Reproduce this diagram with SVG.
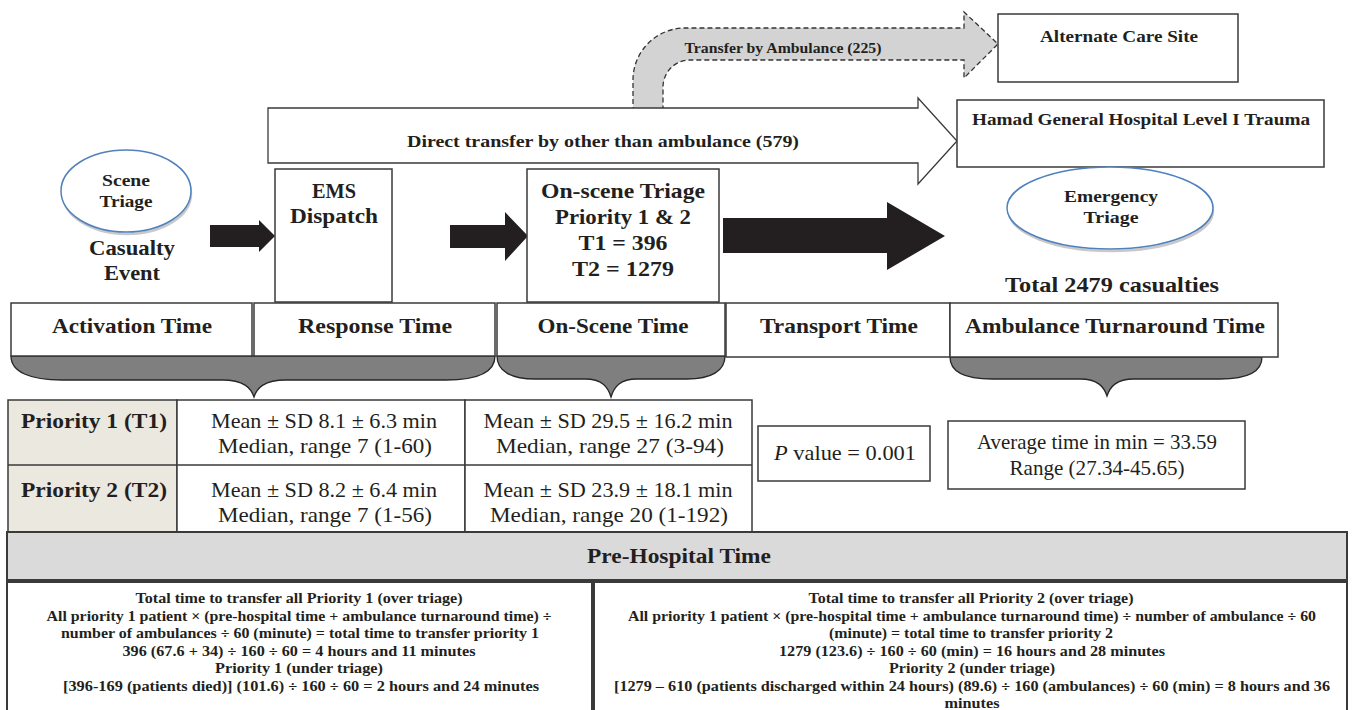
<svg xmlns="http://www.w3.org/2000/svg" width="1353" height="710" viewBox="0 0 1353 710">
<style>
text{font-family:"Liberation Serif","DejaVu Serif",serif;fill:#231f20;text-anchor:middle}
.b{font-weight:bold}
.box{fill:#fff;stroke:#3a3a3a;stroke-width:1.5}
.ell{fill:#fff;stroke:#4f81bd;stroke-width:1.5}
.sh{fill:none;stroke:#c8c8c8;stroke-width:2.5}
.brace{fill:#7f7f7f;stroke:#262626;stroke-width:1.3}
.blk{fill:#231f20}
.h20{font-size:22px;font-weight:bold}
.h17{font-size:17px;font-weight:bold}
.t21{font-size:21px;font-weight:bold}
.r20{font-size:21px}
.s14{font-size:14.5px;font-weight:bold}
</style>
<rect width="1353" height="710" fill="#fff"/>
<g id="connectors">
  <path id="ambulance-arrow" d="M633 112 L633 80 A52 52 0 0 1 685 28 L964 28 L964 12 L998 44 L964 78 L964 60 L690 60 A27 27 0 0 0 663 87 L663 112" fill="#d3d3d3" stroke="#333" stroke-width="1.3" stroke-dasharray="5,3"/>
  <polygon id="direct-arrow" points="268,108 918,108 918,98 957,141 918,184 918,163 268,163" fill="#fff" stroke="#3a3a3a" stroke-width="1.3"/>
  <polygon class="blk" points="210,225 259,225 259,220 275,236 259,252 259,247 210,247"/>
  <polygon class="blk" points="450,225 505,225 505,212 528,236 505,261 505,248 450,248"/>
  <polygon class="blk" points="723,218 887,218 887,202 945,236 887,270 887,253 723,253"/>
  <path class="brace" d="M11 356 C11 372 30 380 62 380 L222 380 C244 380 251 388 254 397 C257 388 264 380 286 380 L446 380 C478 380 495 372 495 356 Z"/>
  <path class="brace" d="M497 356 C497 371 511 379 535 379 L585 379 C602 379 608 387 611 397 C614 387 620 379 637 379 L687 379 C711 379 725 371 725 356 Z"/>
  <path class="brace" d="M950 357 C950 372 966 379 992 379 L1080 379 C1098 379 1104 387 1107 396 C1110 387 1116 379 1134 379 L1220 379 C1246 379 1262 372 1262 357 Z"/>
</g>
<text class="b" x="783" y="53" font-size="15" textLength="197" lengthAdjust="spacingAndGlyphs">Transfer by Ambulance (225)</text>
<text class="b" x="603" y="147" font-size="17" textLength="392" lengthAdjust="spacingAndGlyphs">Direct transfer by other than ambulance (579)</text>
<g id="alternate-care-site">
  <rect class="box" x="998" y="14" width="240" height="68"/>
  <text class="b" x="1119" y="42" font-size="17" textLength="158" lengthAdjust="spacingAndGlyphs">Alternate Care Site</text>
</g>
<g id="hamad-hospital">
  <rect class="box" x="957" y="100" width="367" height="67"/>
  <text class="b" x="1141" y="125" font-size="17" textLength="338" lengthAdjust="spacingAndGlyphs">Hamad General Hospital Level I Trauma</text>
</g>
<g id="scene-triage">
  <ellipse class="sh" cx="127" cy="194" rx="64" ry="40"/>
  <ellipse class="ell" cx="126" cy="191" rx="65" ry="41"/>
  <text class="h17" x="126" y="186" textLength="48" lengthAdjust="spacingAndGlyphs">Scene</text>
  <text class="h17" x="126" y="207" textLength="53" lengthAdjust="spacingAndGlyphs">Triage</text>
</g>
<g id="casualty-event">
  <text class="t21" x="132" y="255" textLength="86" lengthAdjust="spacingAndGlyphs">Casualty</text>
  <text class="t21" x="132" y="280" textLength="56" lengthAdjust="spacingAndGlyphs">Event</text>
</g>
<g id="ems-dispatch">
  <rect class="box" x="275" y="169" width="117" height="133"/>
  <text class="t21" x="334" y="198" textLength="44" lengthAdjust="spacingAndGlyphs">EMS</text>
  <text class="t21" x="334" y="223" textLength="88" lengthAdjust="spacingAndGlyphs">Dispatch</text>
</g>
<g id="on-scene-triage">
  <rect class="box" x="527" y="169" width="192" height="133"/>
  <text class="t21" x="623" y="198" textLength="164" lengthAdjust="spacingAndGlyphs">On-scene Triage</text>
  <text class="t21" x="623" y="224" textLength="136" lengthAdjust="spacingAndGlyphs">Priority 1 &amp; 2</text>
  <text class="t21" x="623" y="250" textLength="89" lengthAdjust="spacingAndGlyphs">T1 = 396</text>
  <text class="t21" x="623" y="276" textLength="102" lengthAdjust="spacingAndGlyphs">T2 = 1279</text>
</g>
<g id="emergency-triage">
  <ellipse class="sh" cx="1111" cy="211" rx="102" ry="40"/>
  <ellipse class="ell" cx="1110" cy="208" rx="103" ry="41"/>
  <text class="h17" x="1111" y="202" textLength="94" lengthAdjust="spacingAndGlyphs">Emergency</text>
  <text class="h17" x="1111" y="223" textLength="55" lengthAdjust="spacingAndGlyphs">Triage</text>
</g>
<g id="total-casualties">
  <text class="t21" x="1112" y="292" textLength="214" lengthAdjust="spacingAndGlyphs">Total 2479 casualties</text>
</g>
<g id="activation-time">
  <rect class="box" x="11" y="303" width="241" height="53"/>
  <text class="h20" x="132" y="333" textLength="160" lengthAdjust="spacingAndGlyphs">Activation Time</text>
</g>
<g id="response-time">
  <rect class="box" x="254" y="303" width="241" height="53"/>
  <text class="h20" x="375" y="333" textLength="154" lengthAdjust="spacingAndGlyphs">Response Time</text>
</g>
<g id="on-scene-time">
  <rect class="box" x="497" y="303" width="228" height="53"/>
  <text class="h20" x="613" y="333" textLength="151" lengthAdjust="spacingAndGlyphs">On-Scene Time</text>
</g>
<g id="transport-time">
  <rect class="box" x="726" y="303" width="224" height="54"/>
  <text class="h20" x="839" y="333" textLength="158" lengthAdjust="spacingAndGlyphs">Transport Time</text>
</g>
<g id="ambulance-turnaround-time">
  <rect class="box" x="950" y="303" width="328" height="54"/>
  <text class="h20" x="1115" y="333" textLength="300" lengthAdjust="spacingAndGlyphs">Ambulance Turnaround Time</text>
</g>
<g id="priority-table">
  <rect x="8" y="400" width="169" height="133" fill="#ebe8df" stroke="#3a3a3a" stroke-width="1.5"/>
  <rect x="177" y="400" width="288" height="133" fill="#fff" stroke="#3a3a3a" stroke-width="1.5"/>
  <rect x="465" y="400" width="287" height="133" fill="#fff" stroke="#3a3a3a" stroke-width="1.5"/>
  <line x1="8" y1="465" x2="752" y2="465" stroke="#3a3a3a" stroke-width="1.5"/>
  <text class="h20" x="94" y="428" textLength="146" lengthAdjust="spacingAndGlyphs">Priority 1 (T1)</text>
  <text class="h20" x="94" y="497" textLength="146" lengthAdjust="spacingAndGlyphs">Priority 2 (T2)</text>
  <text class="r20" x="324" y="428" textLength="226" lengthAdjust="spacingAndGlyphs">Mean ± SD 8.1 ± 6.3 min</text>
  <text class="r20" x="325" y="453" textLength="214" lengthAdjust="spacingAndGlyphs">Median, range 7 (1-60)</text>
  <text class="r20" x="324" y="497" textLength="226" lengthAdjust="spacingAndGlyphs">Mean ± SD 8.2 ± 6.4 min</text>
  <text class="r20" x="325" y="522" textLength="214" lengthAdjust="spacingAndGlyphs">Median, range 7 (1-56)</text>
  <text class="r20" x="608" y="428" textLength="249" lengthAdjust="spacingAndGlyphs">Mean ± SD 29.5 ± 16.2 min</text>
  <text class="r20" x="610" y="453" textLength="228" lengthAdjust="spacingAndGlyphs">Median, range 27 (3-94)</text>
  <text class="r20" x="608" y="497" textLength="249" lengthAdjust="spacingAndGlyphs">Mean ± SD 23.9 ± 18.1 min</text>
  <text class="r20" x="609" y="522" textLength="238" lengthAdjust="spacingAndGlyphs">Median, range 20 (1-192)</text>
</g>
<g id="p-value">
  <rect class="box" x="758" y="426" width="172" height="55"/>
  <text class="r20" x="845" y="460" textLength="142" lengthAdjust="spacingAndGlyphs"><tspan font-style="italic">P</tspan> value = 0.001</text>
</g>
<g id="average-time">
  <rect class="box" x="948" y="421" width="297" height="68"/>
  <text class="r20" x="1097" y="449" textLength="240" lengthAdjust="spacingAndGlyphs">Average time in min = 33.59</text>
  <text class="r20" x="1097" y="475" textLength="175" lengthAdjust="spacingAndGlyphs">Range (27.34-45.65)</text>
</g>
<g id="pre-hospital-time">
  <rect x="7" y="532" width="1340" height="48" fill="#dadadb" stroke="#3a3a3a" stroke-width="2"/>
  <text class="h20" x="679" y="563" textLength="184" lengthAdjust="spacingAndGlyphs">Pre-Hospital Time</text>
</g>
<g id="priority1-transfer">
  <rect x="7" y="582" width="585" height="135" fill="#fff" stroke="#3a3a3a" stroke-width="2"/>
  <text class="s14" x="299" y="603" textLength="327" lengthAdjust="spacingAndGlyphs">Total time to transfer all Priority 1 (over triage)</text>
  <text class="s14" x="299" y="621" textLength="505" lengthAdjust="spacingAndGlyphs">All priority 1 patient × (pre-hospital time + ambulance turnaround time) ÷</text>
  <text class="s14" x="300" y="638" textLength="478" lengthAdjust="spacingAndGlyphs">number of ambulances ÷ 60 (minute) = total time to transfer priority 1</text>
  <text class="s14" x="299" y="656" textLength="353" lengthAdjust="spacingAndGlyphs">396 (67.6 + 34) ÷ 160 ÷ 60 = 4 hours and 11 minutes</text>
  <text class="s14" x="299" y="673" textLength="168" lengthAdjust="spacingAndGlyphs">Priority 1 (under triage)</text>
  <text class="s14" x="301" y="691" textLength="476" lengthAdjust="spacingAndGlyphs">[396-169 (patients died)] (101.6) ÷ 160 ÷ 60 = 2 hours and 24 minutes</text>
</g>
<g id="priority2-transfer">
  <rect x="594" y="582" width="753" height="135" fill="#fff" stroke="#3a3a3a" stroke-width="2"/>
  <text class="s14" x="971" y="603" textLength="325" lengthAdjust="spacingAndGlyphs">Total time to transfer all Priority 2 (over triage)</text>
  <text class="s14" x="972" y="621" textLength="688" lengthAdjust="spacingAndGlyphs">All priority 1 patient × (pre-hospital time + ambulance turnaround time) ÷ number of ambulance ÷ 60</text>
  <text class="s14" x="971" y="638" textLength="284" lengthAdjust="spacingAndGlyphs">(minute) = total time to transfer priority 2</text>
  <text class="s14" x="972" y="656" textLength="386" lengthAdjust="spacingAndGlyphs">1279 (123.6) ÷ 160 ÷ 60 (min) = 16 hours and 28 minutes</text>
  <text class="s14" x="972" y="673" textLength="166" lengthAdjust="spacingAndGlyphs">Priority 2 (under triage)</text>
  <text class="s14" x="972" y="691" textLength="716" lengthAdjust="spacingAndGlyphs">[1279 – 610 (patients discharged within 24 hours) (89.6) ÷ 160 (ambulances) ÷ 60 (min) = 8 hours and 36</text>
  <text class="s14" x="972" y="708" textLength="55" lengthAdjust="spacingAndGlyphs">minutes</text>
</g>
</svg>
